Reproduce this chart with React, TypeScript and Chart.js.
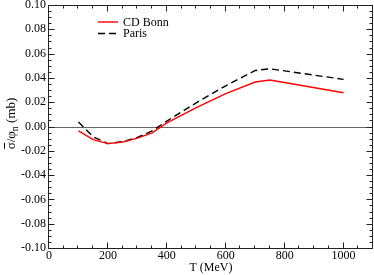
import { useEffect, useRef } from 'react';
import { Chart, registerables } from 'chart.js';

Chart.register(...registerables);

// T (MeV)
const energies = [100, 150, 200, 250, 300, 350, 400, 500, 600, 700, 750, 1000];
// sigma-bar / phi_n (mb)
const cdBonn = [-0.0036, -0.0108, -0.0141, -0.0128, -0.0096, -0.0052, 0.003, 0.0155, 0.027, 0.0366, 0.0383, 0.0278];
const paris = [0.0037, -0.0085, -0.0141, -0.0125, -0.009, -0.0037, 0.0045, 0.0195, 0.0335, 0.0461, 0.0475, 0.0388];
const seriesLabels = ['CD Bonn', 'Paris'];
const xTickValues = [0, 200, 400, 600, 800, 1000];
const yTickValues = [-0.1, -0.08, -0.06, -0.04, -0.02, 0, 0.02, 0.04, 0.06, 0.08, 0.1];
const xTitle = 'T (MeV)';

const FONT = '"Liberation Serif", "DejaVu Serif", serif';

const framePlugin = {
  id: 'frame',
  beforeDatasetsDraw(chart: any) {
    const { ctx, chartArea: { left, right }, scales: { y } } = chart;
    const py = Math.round(y.getPixelForValue(0)) + 0.5;
    ctx.save();
    ctx.strokeStyle = '#666';
    ctx.lineWidth = 1;
    ctx.beginPath();
    ctx.moveTo(left, py);
    ctx.lineTo(right, py);
    ctx.stroke();
    ctx.restore();
  },
  afterDatasetsDraw(chart: any) {
    const { ctx, chartArea: { left, right, top, bottom }, scales: { x, y } } = chart;
    ctx.save();
    ctx.strokeStyle = '#222';
    ctx.lineWidth = 1;
    const x0 = Math.round(left) - 0.5;
    const x1 = Math.round(right) - 0.5;
    const y0 = Math.round(top) + 0.5;
    const y1 = Math.round(bottom) + 0.5;
    ctx.beginPath();
    for (let i = 0; i <= 22; i++) {
      const v = i * 50;
      const px = Math.round(x.getPixelForValue(v)) - 0.5;
      const len = i % 4 === 0 ? 6 : 3;
      ctx.moveTo(px, y1);
      ctx.lineTo(px, y1 - len);
      ctx.moveTo(px, y0);
      ctx.lineTo(px, y0 + len);
    }
    for (let i = -20; i <= 20; i++) {
      const v = i * 0.005;
      const py = Math.round(y.getPixelForValue(v)) + 0.5;
      const len = i % 4 === 0 ? 6 : 3;
      ctx.moveTo(x0, py);
      ctx.lineTo(x0 + len, py);
      ctx.moveTo(x1, py);
      ctx.lineTo(x1 - len, py);
    }
    ctx.stroke();
    ctx.strokeRect(x0, y0, x1 - x0, y1 - y0);

    // legend
    const ds = chart.data.datasets;
    ctx.font = `12px ${FONT}`;
    ctx.fillStyle = '#000';
    ctx.textBaseline = 'alphabetic';
    ctx.textAlign = 'left';
    ds.forEach((d: any, i: number) => {
      const ly = top + 17 + i * 11.5;
      ctx.save();
      ctx.strokeStyle = d.borderColor;
      ctx.lineWidth = d.borderWidth;
      ctx.setLineDash(d.borderDash || []);
      ctx.beginPath();
      ctx.moveTo(left + 49, ly);
      ctx.lineTo(left + 69, ly);
      ctx.stroke();
      ctx.restore();
      ctx.fillText(d.label, left + 74, ly + 3.5);
    });

    // y axis title: sigma-bar / phi_n (mb)
    const cy = (top + bottom) / 2 - 3;
    ctx.save();
    ctx.translate(15, cy);
    ctx.rotate(-Math.PI / 2);
    const main = 13;
    const sub = 10;
    ctx.font = `${main}px ${FONT}`;
    const wSig = ctx.measureText('σ').width;
    const wA = ctx.measureText('σ/φ').width;
    ctx.font = `${sub}px ${FONT}`;
    const wN = ctx.measureText('n').width;
    ctx.font = `${main}px ${FONT}`;
    const wB = ctx.measureText(' (mb)').width;
    const total = wA + wN + wB;
    let tx = -total / 2;
    ctx.fillText('σ/φ', tx, 0);
    // bar over sigma
    ctx.beginPath();
    ctx.strokeStyle = '#000';
    ctx.lineWidth = 1;
    ctx.moveTo(tx + 0.5, -10.5);
    ctx.lineTo(tx + wSig - 0.5, -10.5);
    ctx.stroke();
    tx += wA;
    ctx.font = `${sub}px ${FONT}`;
    ctx.fillText('n', tx, 3);
    tx += wN;
    ctx.font = `${main}px ${FONT}`;
    ctx.fillText(' (mb)', tx, 0);
    ctx.restore();

    ctx.restore();
  },
};

export default function App() {
  const ref = useRef<HTMLCanvasElement>(null);
  useEffect(() => {
    document.body.style.margin = '0';
    const chart = new Chart(ref.current as HTMLCanvasElement, {
      type: 'line',
      data: {
        datasets: [
          {
            label: seriesLabels[0],
            data: energies.map((e, i) => ({ x: e, y: cdBonn[i] })),
            borderColor: '#ff0000',
            borderWidth: 1.4,
            pointRadius: 0,
            fill: false,
            tension: 0,
          },
          {
            label: seriesLabels[1],
            data: energies.map((e, i) => ({ x: e, y: paris[i] })),
            borderColor: '#000000',
            borderWidth: 1.4,
            borderDash: [7, 4],
            pointRadius: 0,
            fill: false,
            tension: 0,
          },
        ],
      },
      options: {
        responsive: false,
        animation: false,
        layout: { padding: { top: 5, right: 1, left: 0, bottom: 0 } },
        plugins: { legend: { display: false }, tooltip: { enabled: false } },
        scales: {
          x: {
            type: 'linear',
            min: 0,
            max: 1100,
            afterBuildTicks: (s: any) => {
              s.ticks = xTickValues.map((v) => ({ value: v }));
            },
            afterFit: (s: any) => {
              s.height = 27;
              s.paddingLeft = 0;
              s.paddingRight = 0;
            },
            grid: { display: false, drawTicks: false },
            border: { display: false },
            ticks: {
              padding: 1,
              color: '#000',
              font: { family: FONT, size: 12 },
              maxRotation: 0,
              autoSkip: false,
              callback: (v: any) => String(v),
            },
            title: {
              display: true,
              text: xTitle,
              color: '#000',
              font: { family: FONT, size: 12 },
              padding: { top: 0, bottom: 0 },
            },
          },
          y: {
            type: 'linear',
            min: -0.1,
            max: 0.1,
            afterBuildTicks: (s: any) => {
              s.ticks = yTickValues.map((v) => ({ value: v }));
            },
            afterFit: (s: any) => {
              s.width = 49;
              s.paddingTop = 0;
              s.paddingBottom = 0;
            },
            grid: { display: false, drawTicks: false },
            border: { display: false },
            ticks: {
              padding: 3,
              color: '#000',
              font: { family: FONT, size: 12 },
              autoSkip: false,
              callback: (v: any) => (Math.abs(Number(v)) < 1e-9 ? '0.00' : Number(v).toFixed(2)),
            },
            title: { display: false },
          },
        },
      },
      plugins: [framePlugin],
    } as any);
    return () => chart.destroy();
  }, []);
  return (
    <div style={{ position: 'absolute', left: 0, top: 0, width: 374, height: 275 }}>
      <canvas ref={ref} width={374} height={275} style={{ display: 'block', width: 374, height: 275 }} />
    </div>
  );
}
